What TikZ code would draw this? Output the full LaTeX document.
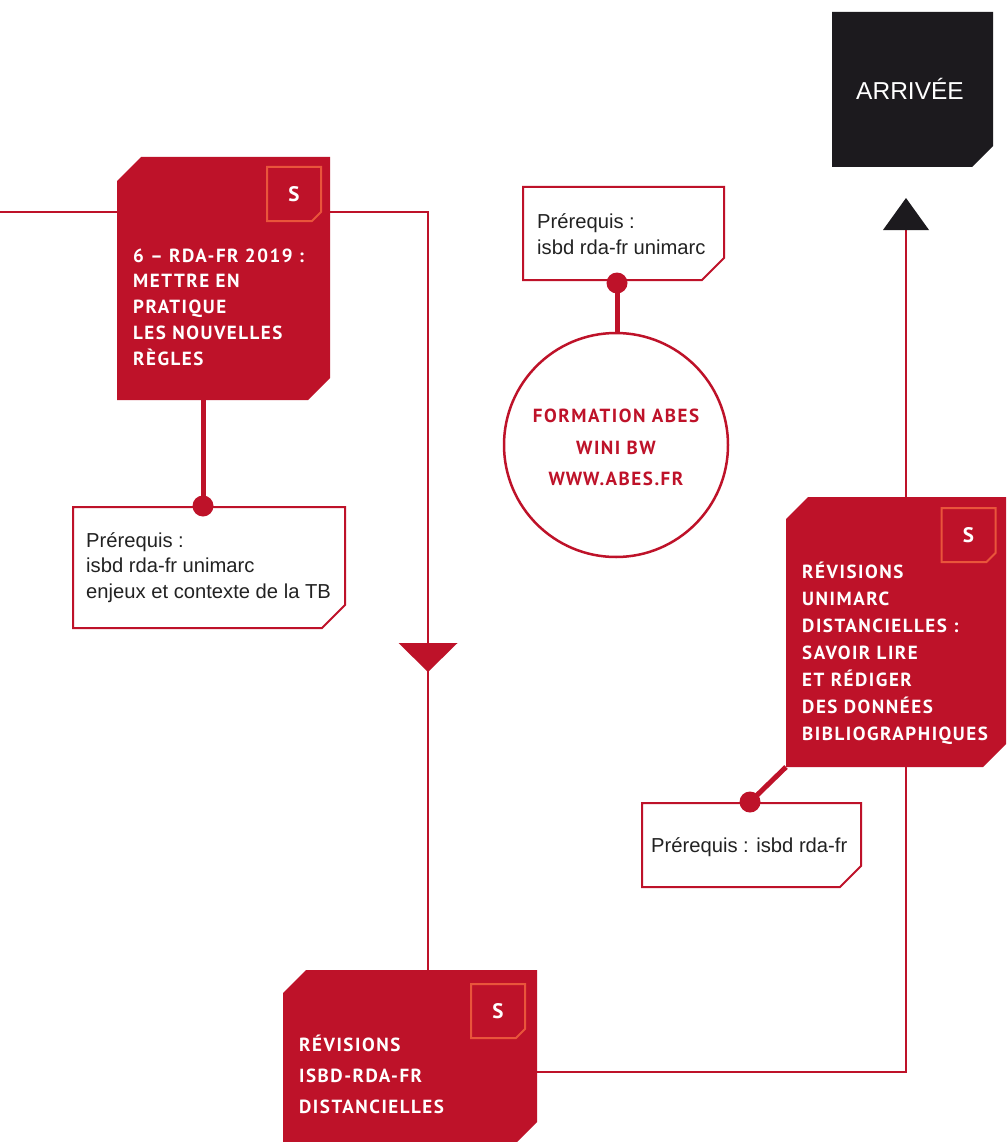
\documentclass[tikz,border=0pt]{standalone}
\usepackage{fontspec}
\usetikzlibrary{calc}
\setmainfont{Liberation Sans}
\newfontfamily\hfont[LetterSpace=8]{PT Sans}
\newfontfamily\bodyfont{Liberation Sans}
\definecolor{rouge}{HTML}{BE1229}
\definecolor{orng}{HTML}{E9553B}
\definecolor{noir}{HTML}{1C1A1E}
\definecolor{texte}{HTML}{222222}
\newcommand\cutpoly[4]{%
  \path[#1] ($(#2.north west)+(0,#3)$) -- ($(#2.north west)+(#3,0)$) -- (#2.north east)
    -- ($(#2.south east)+(0,-#4)$) -- ($(#2.south east)+(-#4,0)$) -- (#2.south west) -- cycle;}
\begin{document}
\begin{tikzpicture}[x=1pt,y=-1pt,
  frame/.style={draw=none,inner sep=0,outer sep=0,minimum width=#1},
  route/.style={draw=rouge,line width=2.2pt},
  stem/.style={draw=rouge,line width=5pt},
  head/.style={text=white,anchor=base west,align=left,inner sep=0,
     font=\hfont\bfseries\fontsize{19}{25.75}\selectfont},
  body/.style={text=texte,anchor=base west,align=left,inner sep=0,
     font=\bodyfont\fontsize{20.2}{25.3}\selectfont},
  badgetxt/.style={text=white,inner sep=0,font=\hfont\bfseries\fontsize{21}{21}\selectfont},
  circtxt/.style={text=rouge,anchor=base,inner sep=0,font=\hfont\bfseries\fontsize{19}{19}\selectfont}
]
\fill[white] (0,0) rectangle (1006,1142);
\useasboundingbox (0,0) rectangle (1006,1142);

% frames (named boxes)
\node[frame=213pt,minimum height=243pt] (b1) at (223.5,278.5) {};
\node[frame=254pt,minimum height=172pt] (b3) at (410,1056) {};
\node[frame=220pt,minimum height=270pt] (b4) at (896,632) {};
\node[frame=161pt,minimum height=155pt] (arr) at (912.5,89.5) {};
\node[frame=272pt,minimum height=121pt] (p1) at (209,567.5) {};
\node[frame=201pt,minimum height=93pt] (p2) at (623.5,233.5) {};
\node[frame=219pt,minimum height=84pt] (p3) at (751.5,845) {};
\node[frame=54pt,minimum height=54pt] (s1) at (294,194) {};
\node[frame=54pt,minimum height=54pt] (s3) at (498,1011) {};
\node[frame=54pt,minimum height=54pt] (s4) at (968.5,535) {};
\node[circle,draw=rouge,line width=2.5pt,minimum size=224pt,inner sep=0] (circ) at (616,445) {};

% named points
\coordinate (start) at (0,212);
\coordinate (c1) at (428,212);
\coordinate (m1) at (428,657.5);
\coordinate (c2) at (906,1072);
\coordinate (m2) at (906,214);
\coordinate (d1) at (203,506);
\coordinate (d2) at (617,283);
\coordinate (d3) at (750,802);

% route
\draw[route] (start) -- (start -| b1.west);
\draw[route] (start -| b1.east) -- (c1) -- (c1 |- b3.north);
\draw[route] (c2 -| b3.east) -- (c2) -- (c2 |- b4.south);
\draw[route] (c2 |- b4.north) -- ($(m2)+(0,16)$);
\fill[rouge] ($(m1)+(-29.5,-14.5)$) -- ($(m1)+(29.5,-14.5)$) -- ($(m1)+(0,14.5)$) -- cycle;
\fill[noir] ($(m2)+(-23,16)$) -- ($(m2)+(23,16)$) -- ($(m2)+(0,-16)$) -- cycle;

% stems
\draw[stem] (d1 |- b1.south) -- (d1);
\draw[stem] (d2) -- (d2 |- circ.north);
\draw[stem] (d3) -- (b4.south west);

% boxes
\cutpoly{fill=rouge}{b1}{24}{22}
\cutpoly{fill=rouge}{b3}{23}{20}
\cutpoly{fill=rouge}{b4}{22}{23}
\cutpoly{fill=noir}{arr}{0}{21}
\cutpoly{fill=white,draw=rouge,line width=2pt}{p1}{0}{23}
\cutpoly{fill=white,draw=rouge,line width=2pt}{p2}{0}{22}
\cutpoly{fill=white,draw=rouge,line width=2pt}{p3}{0}{21}
\cutpoly{draw=orng,line width=2pt}{s1}{0}{9}
\cutpoly{draw=orng,line width=2pt}{s3}{0}{9}
\cutpoly{draw=orng,line width=2pt}{s4}{0}{9}

% dots
\fill[rouge] (d1) circle (10.5);
\fill[rouge] (d2) circle (10.5);
\fill[rouge] (d3) circle (10.5);

% texts (anchor = baseline of last line)
\node[badgetxt] (s1t) at (s1) {S};
\node[badgetxt] (s3t) at (s3) {S};
\node[badgetxt] (s4t) at (s4) {S};
\node[head] (b1t) at (133,365) {6 – RDA-FR 2019 :\\METTRE EN\\PRATIQUE\\LES NOUVELLES\\RÈGLES};
\node[head,font=\hfont\bfseries\fontsize{19}{31}\selectfont] (b3t) at (299,1113) {RÉVISIONS\\ISBD-RDA-FR\\DISTANCIELLES};
\node[head,font=\hfont\bfseries\fontsize{19}{27}\selectfont] (b4t) at (802,740) {RÉVISIONS\\UNIMARC\\DISTANCIELLES :\\SAVOIR LIRE\\ET RÉDIGER\\DES DONNÉES\\BIBLIOGRAPHIQUES};
\node[circtxt] (ct1) at (616,422) {FORMATION ABES};
\node[circtxt] (ct2) at (616,454) {WINI BW};
\node[circtxt] (ct3) at (616,485) {WWW.ABES.FR};
\node[text=white,anchor=base,inner sep=0,font=\bodyfont\fontsize{24.5}{24.5}\selectfont] (arrt) at (910,100) {ARRIVÉE};
\node[body] (p1t) at (86,598) {Prérequis :\\isbd rda-fr unimarc\\enjeux et contexte de la TB};
\node[body] (p2t) at (537,254) {Prérequis :\\isbd rda-fr unimarc};
\node[body] (p3t) at (651,852) {Prérequis : isbd rda-fr};
\end{tikzpicture}
\end{document}
